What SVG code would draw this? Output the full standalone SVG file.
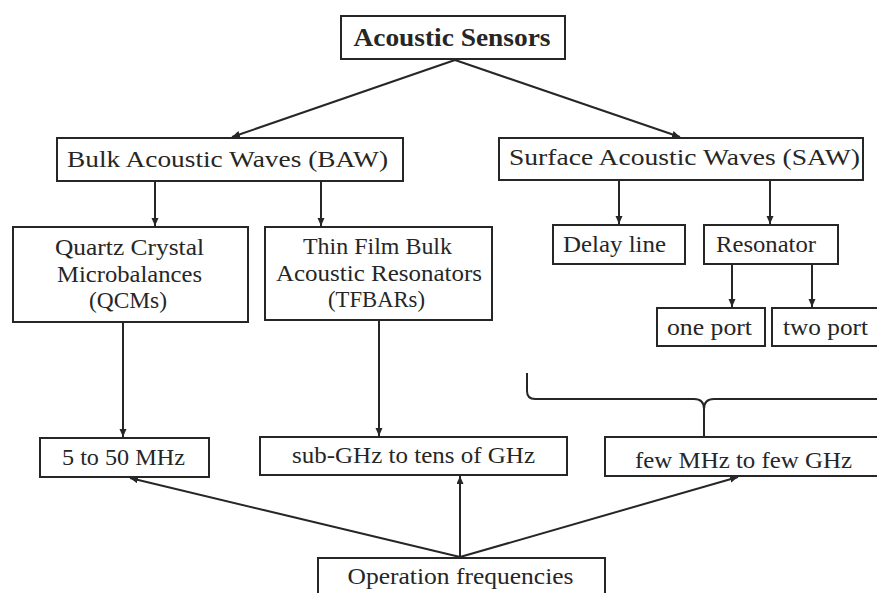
<svg xmlns="http://www.w3.org/2000/svg" width="877" height="593" viewBox="0 0 877 593">
  <style>
    .box { fill: #ffffff; stroke: #262626; stroke-width: 2; }
    .lbl { font-family: "Liberation Serif", "Times New Roman", serif; font-size: 23.5px; fill: #262626; text-anchor: middle; }
    .title { font-weight: bold; font-size: 26px; }
    .conn { fill: none; stroke: #262626; stroke-width: 2; }
  </style>
  <defs>
    <marker id="arrow" markerUnits="userSpaceOnUse" markerWidth="9" markerHeight="8" refX="8" refY="3.5" orient="auto">
      <path d="M0,0 L8,3.5 L0,7 z" fill="#262626"/>
    </marker>
  </defs>
  <rect width="877" height="593" fill="#ffffff"/>

  <!-- connectors -->
  <g id="connectors">
    <line class="conn" x1="455" y1="60" x2="232" y2="137" marker-end="url(#arrow)"/>
    <line class="conn" x1="455" y1="60" x2="680" y2="137" marker-end="url(#arrow)"/>
    <line class="conn" x1="155" y1="181" x2="155" y2="226" marker-end="url(#arrow)"/>
    <line class="conn" x1="321" y1="181" x2="321" y2="226" marker-end="url(#arrow)"/>
    <line class="conn" x1="619" y1="180" x2="619" y2="224" marker-end="url(#arrow)"/>
    <line class="conn" x1="770" y1="180" x2="770" y2="224" marker-end="url(#arrow)"/>
    <line class="conn" x1="732" y1="264" x2="732" y2="307" marker-end="url(#arrow)"/>
    <line class="conn" x1="812" y1="264" x2="812" y2="307" marker-end="url(#arrow)"/>
    <line class="conn" x1="123" y1="322" x2="123" y2="437" marker-end="url(#arrow)"/>
    <line class="conn" x1="379" y1="320" x2="379" y2="436" marker-end="url(#arrow)"/>
    <line class="conn" x1="460" y1="557" x2="130" y2="478" marker-end="url(#arrow)"/>
    <line class="conn" x1="460" y1="557" x2="460" y2="476" marker-end="url(#arrow)"/>
    <line class="conn" x1="460" y1="557" x2="738" y2="477" marker-end="url(#arrow)"/>
    <!-- brace grouping the SAW resonator branch -->
    <path class="conn" d="M527,373 L527,391 Q527,399 535,399 L694,399 Q704,399 704,409 L704,436 M704,409 Q704,399 714,399 L880,399"/>
  </g>

  <g id="acoustic-sensors">
    <rect class="box" x="341" y="16" width="224" height="43"/>
    <text class="lbl title" x="452" y="46" textLength="197" lengthAdjust="spacingAndGlyphs">Acoustic Sensors</text>
  </g>

  <g id="baw">
    <rect class="box" x="57" y="138" width="346" height="43"/>
    <text class="lbl" x="227.5" y="167" textLength="321" lengthAdjust="spacingAndGlyphs">Bulk Acoustic Waves (BAW)</text>
  </g>

  <g id="saw">
    <rect class="box" x="499" y="138" width="364" height="42"/>
    <text class="lbl" x="684.5" y="165" textLength="351" lengthAdjust="spacingAndGlyphs">Surface Acoustic Waves (SAW)</text>
  </g>

  <g id="qcm">
    <rect class="box" x="13" y="227" width="235" height="95"/>
    <text class="lbl" x="129.5" y="255" textLength="149" lengthAdjust="spacingAndGlyphs">Quartz Crystal</text>
    <text class="lbl" x="129.5" y="282" textLength="145" lengthAdjust="spacingAndGlyphs">Microbalances</text>
    <text class="lbl" x="128" y="308" textLength="78" lengthAdjust="spacingAndGlyphs">(QCMs)</text>
  </g>

  <g id="tfbar">
    <rect class="box" x="265" y="227" width="227" height="93"/>
    <text class="lbl" x="377.5" y="254" textLength="149" lengthAdjust="spacingAndGlyphs">Thin Film Bulk</text>
    <text class="lbl" x="379" y="281" textLength="206" lengthAdjust="spacingAndGlyphs">Acoustic Resonators</text>
    <text class="lbl" x="376.5" y="307" textLength="97" lengthAdjust="spacingAndGlyphs">(TFBARs)</text>
  </g>

  <g id="delay-line">
    <rect class="box" x="553" y="225" width="132" height="39"/>
    <text class="lbl" x="614.5" y="252" textLength="103" lengthAdjust="spacingAndGlyphs">Delay line</text>
  </g>

  <g id="resonator">
    <rect class="box" x="704" y="225" width="134" height="39"/>
    <text class="lbl" x="766" y="252" textLength="100" lengthAdjust="spacingAndGlyphs">Resonator</text>
  </g>

  <g id="one-port">
    <rect class="box" x="657" y="308" width="108" height="38"/>
    <text class="lbl" x="709.5" y="335" textLength="85" lengthAdjust="spacingAndGlyphs">one port</text>
  </g>

  <g id="two-port">
    <rect class="box" x="772" y="308" width="110" height="38"/>
    <text class="lbl" x="825.5" y="335" textLength="85" lengthAdjust="spacingAndGlyphs">two port</text>
  </g>

  <g id="freq-qcm">
    <rect class="box" x="40" y="438" width="169" height="39"/>
    <text class="lbl" x="123.5" y="465" textLength="123" lengthAdjust="spacingAndGlyphs">5 to 50 MHz</text>
  </g>

  <g id="freq-tfbar">
    <rect class="box" x="260" y="437" width="307" height="38"/>
    <text class="lbl" x="413.5" y="463" textLength="243" lengthAdjust="spacingAndGlyphs">sub-GHz to tens of GHz</text>
  </g>

  <g id="freq-saw">
    <rect class="box" x="605" y="437" width="275" height="39"/>
    <text class="lbl" x="743.5" y="468" textLength="217" lengthAdjust="spacingAndGlyphs">few MHz to few GHz</text>
  </g>

  <g id="operation-frequencies">
    <rect class="box" x="318" y="558" width="287" height="40"/>
    <text class="lbl" x="460.5" y="584" textLength="226" lengthAdjust="spacingAndGlyphs">Operation frequencies</text>
  </g>
</svg>
